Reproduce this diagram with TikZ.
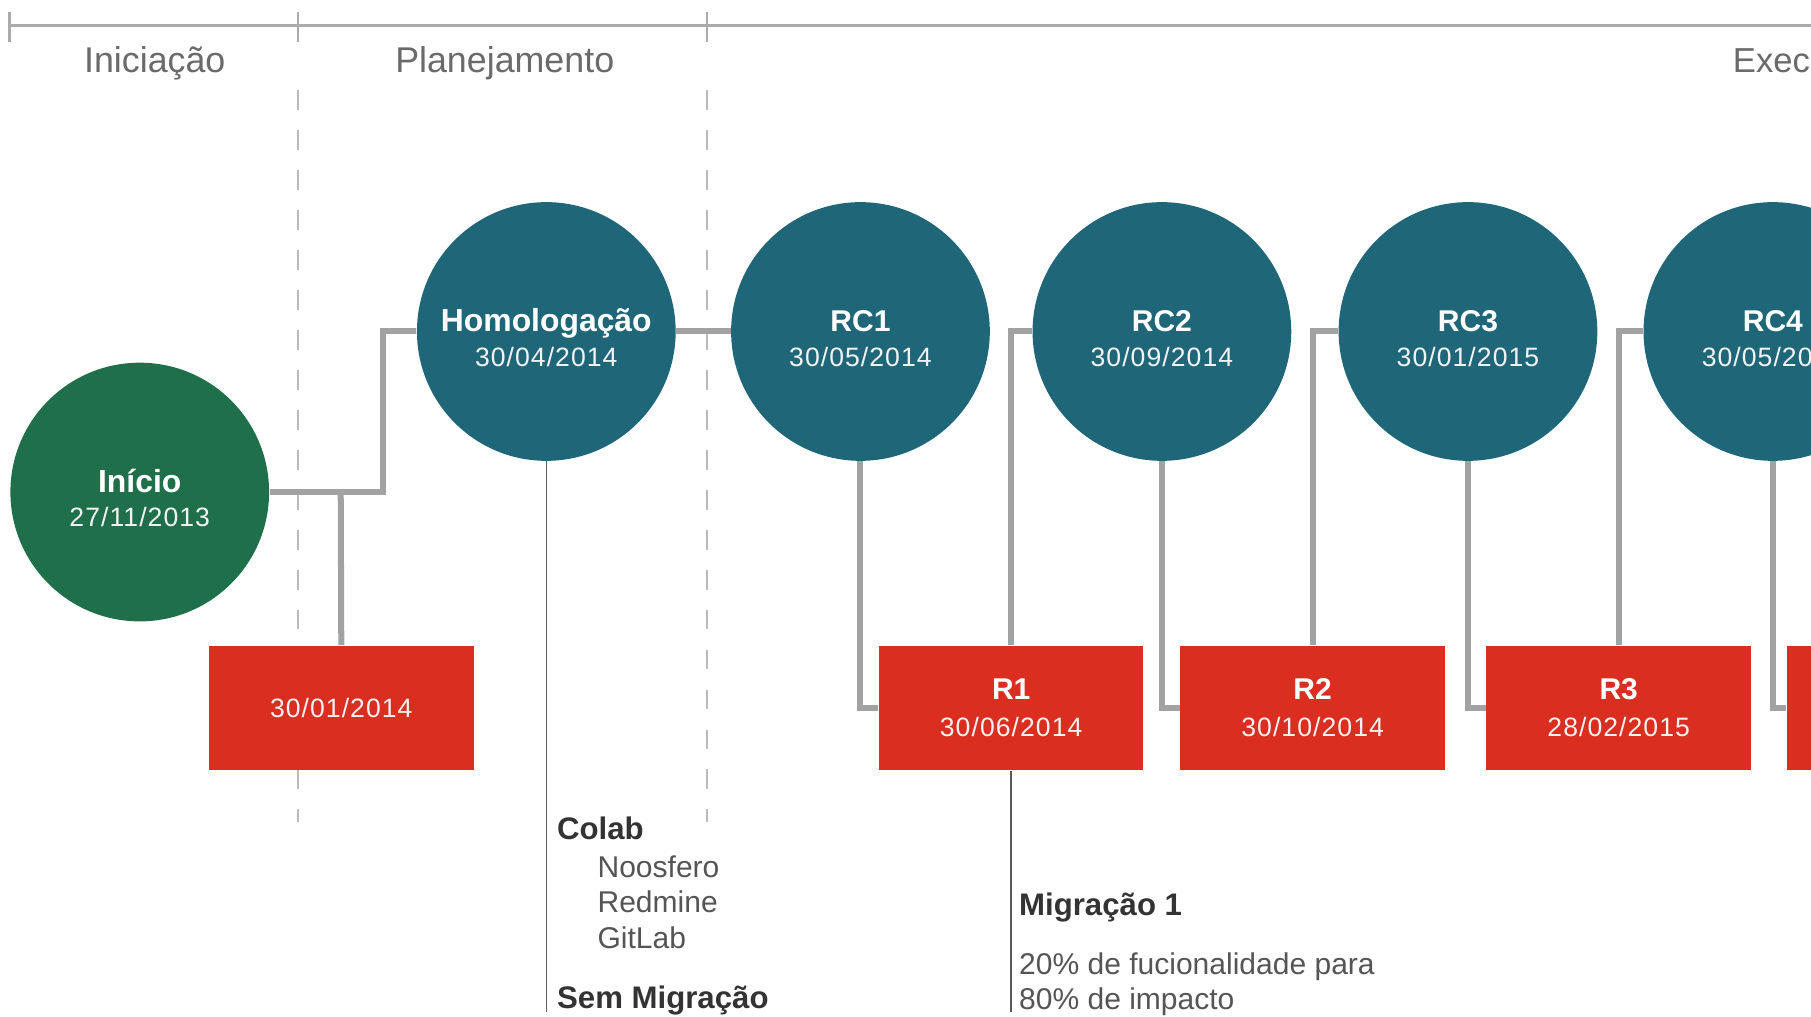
\documentclass[tikz,border=0pt]{standalone}
\usepackage{fontspec}
\setmainfont{Liberation Sans}
\newfontfamily\datefont[LetterSpace=4]{Liberation Sans}
\definecolor{startgreen}{HTML}{1F704A}
\definecolor{rcteal}{HTML}{1F6778}
\definecolor{relred}{HTML}{D92E20}
\definecolor{conngray}{HTML}{A2A2A2}
\definecolor{thingray}{HTML}{5A5A5A}
\definecolor{dashgray}{HTML}{BBBBBB}
\definecolor{phasegray}{HTML}{6A6A6A}
\definecolor{txtdark}{HTML}{333333}
\definecolor{txtmid}{HTML}{555555}
\tikzset{
  conn/.style={draw=conngray, line width=2.6pt, line join=miter},
  thinline/.style={draw=thingray, line width=0.7pt},
  phasedash/.style={draw=dashgray, line width=1pt, dash pattern=on 8.6pt off 8.7pt},
  topline/.style={draw=conngray!90, line width=1.1pt},
  phase/.style={font=\fontsize{15.5}{18}\selectfont, text=phasegray, anchor=base, inner sep=0pt},
  milestone/.style={circle, minimum size=112pt, inner sep=0pt, fill=rcteal},
  startnode/.style={circle, minimum size=112pt, inner sep=0pt, fill=startgreen},
  relbox/.style={rectangle, minimum width=114.5pt, minimum height=54pt, inner sep=0pt, fill=relred},
  nm/.style={font=\bfseries\fontsize{13}{15}\selectfont, text=white, anchor=base, inner sep=0pt},
  bignm/.style={font=\bfseries\fontsize{13.8}{15}\selectfont, text=white, anchor=base, inner sep=0pt},
  dt/.style={font=\datefont\fontsize{11.5}{14}\selectfont, text=white!95!black, anchor=base, inner sep=0pt},
  headtxt/.style={font=\bfseries\fontsize{13.5}{16}\selectfont, text=txtdark, anchor=base west, inner sep=0pt},
  bodytxt/.style={font=\fontsize{13}{15}\selectfont, text=txtmid, anchor=base west, inner sep=0pt}
}
\begin{document}
\begin{tikzpicture}[x=0.5pt,y=-0.5pt]
\useasboundingbox[fill=white] (0,0) rectangle (1568,880);
\clip (0,0) rectangle (1568,880);

% top phase line
\draw[topline] (8,22) -- (1568,22);
\draw[topline] (8,10) -- (8,36);
\draw[topline] (258,10) -- (258,36);
\draw[topline] (612,10) -- (612,36);
\draw[phasedash] (258,78) -- (258,712);
\draw[phasedash] (612,78) -- (612,712);

\node[phase] (ph1) at (134,63) {Iniciação};
\node[phase] (ph2) at (437,63) {Planejamento};
\node[phase, anchor=base west, font=\fontsize{15}{18}\selectfont] (ph3) at (1500,63) {Exec};

% milestones
\node[startnode] (ini) at (121,426) {};
\node[milestone] (hom) at (473,287) {};
\node[milestone] (rc1) at (745,287) {};
\node[milestone] (rc2) at (1006,287) {};
\node[milestone] (rc3) at (1271,287) {};
\node[milestone] (rc4) at (1535,287) {};

\node[relbox] (d1) at (295.5,613) {};
\node[relbox] (r1) at (875.5,613) {};
\node[relbox] (r2) at (1136.5,613) {};
\node[relbox] (r3) at (1401.5,613) {};
\node[relbox] (r4) at (1661.5,613) {};

% connectors
\coordinate (j1) at (295,426);
\draw[conn] (ini.east) -- (332,426) |- (hom.west);
\draw[conn] (j1) -- (d1.north);
\draw[conn] (hom.east) -- (rc1.west);
\draw[conn] (rc1.south) |- (r1.west);
\draw[conn] (r1.north) |- (rc2.west);
\draw[conn] (rc2.south) |- (r2.west);
\draw[conn] (r2.north) |- (rc3.west);
\draw[conn] (rc3.south) |- (r3.west);
\draw[conn] (r3.north) |- (rc4.west);
\draw[conn] (rc4.south) |- (r4.west);

% thin lines
\coordinate (homEnd) at (473,876);
\coordinate (r1End) at (875.5,876);
\draw[thinline] (hom.south) -- (homEnd);
\draw[thinline] (r1.south) -- (r1End);

% labels in milestones
\node[bignm] (iniN) at (121,426) {Início};
\node[dt] (iniD) at (121,456) {27/11/2013};
\node[bignm] (homN) at (473,287) {Homologação};
\node[dt] (homD) at (473,317) {30/04/2014};
\node[nm] (rc1N) at (745,287) {RC1};
\node[dt] (rc1D) at (745,317) {30/05/2014};
\node[nm] (rc2N) at (1006,287) {RC2};
\node[dt] (rc2D) at (1006,317) {30/09/2014};
\node[nm] (rc3N) at (1271,287) {RC3};
\node[dt] (rc3D) at (1271,317) {30/01/2015};
\node[nm] (rc4N) at (1535,287) {RC4};
\node[dt, anchor=base west] (rc4D) at (1473,317) {30/05/20};

\node[dt] (d1D) at (295.5,621) {30/01/2014};
\node[nm] (r1N) at (875.5,606) {R1};
\node[dt] (r1D) at (875.5,638) {30/06/2014};
\node[nm] (r2N) at (1136.5,606) {R2};
\node[dt] (r2D) at (1136.5,638) {30/10/2014};
\node[nm] (r3N) at (1401.5,606) {R3};
\node[dt] (r3D) at (1401.5,638) {28/02/2015};

% notes
\node[headtxt] (colab) at (482,727) {Colab};
\node[bodytxt] (noos) at (517,760) {Noosfero};
\node[bodytxt] (redm) at (517,790) {Redmine};
\node[bodytxt] (gitl) at (517,821) {GitLab};
\node[headtxt] (semm) at (482,873) {Sem Migração};
\node[headtxt] (mig1) at (882,793) {Migração 1};
\node[bodytxt] (mig1a) at (882,844) {20\% de fucionalidade para};
\node[bodytxt] (mig1b) at (882,874) {80\% de impacto};
\end{tikzpicture}
\end{document}
